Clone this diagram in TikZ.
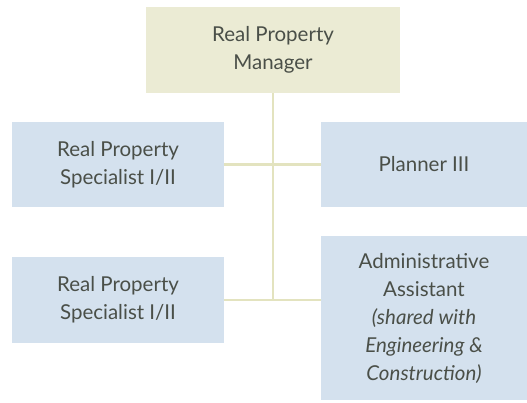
\documentclass[tikz,border=0pt]{standalone}
\usepackage{fontspec}
\setmainfont{Lato}
\usepackage{tikz}
\usepackage{xcolor}
\definecolor{mgrfill}{HTML}{EBEBD4}
\definecolor{staffill}{HTML}{D4E1EE}
\definecolor{linkcol}{HTML}{E3E3BF}
\definecolor{textcol}{HTML}{4A4F48}
\tikzset{
  box/.style={inner sep=0pt,align=center,text=textcol,
    font=\fontsize{20.5}{28}\selectfont},
  mgrbox/.style={box,fill=mgrfill},
  staffbox/.style={box,fill=staffill},
  link/.style={draw=linkcol,line width=2.6pt}
}
\begin{document}
\begin{tikzpicture}[x=1pt,y=-1pt]
\useasboundingbox (0,0) rectangle (527,402);
\node[mgrbox,minimum width=254pt,minimum height=86pt] (mgr) at (273,50) {Real Property\\Manager};
\node[staffbox,minimum width=212pt,minimum height=85pt] (spec1) at (118,164.5) {Real Property\\Specialist I/II};
\node[staffbox,minimum width=206pt,minimum height=85pt] (plan) at (424,164.5) {Planner III};
\node[staffbox,minimum width=212pt,minimum height=86pt] (spec2) at (118,300) {Real Property\\Specialist I/II};
\node[staffbox,minimum width=206pt,minimum height=164pt] (admin) at (424,318) {Administrative\\Assistant\\\textit{(shared with}\\\textit{Engineering \&}\\\textit{Construction)}};
\coordinate (trunk) at (spec2.east -| mgr.south);
\draw[link] (mgr.south) -- (trunk);
\draw[link] (spec1.east) -- (plan.west);
\draw[link] (spec2.east) -- (spec2.east -| admin.west);
\end{tikzpicture}
\end{document}
